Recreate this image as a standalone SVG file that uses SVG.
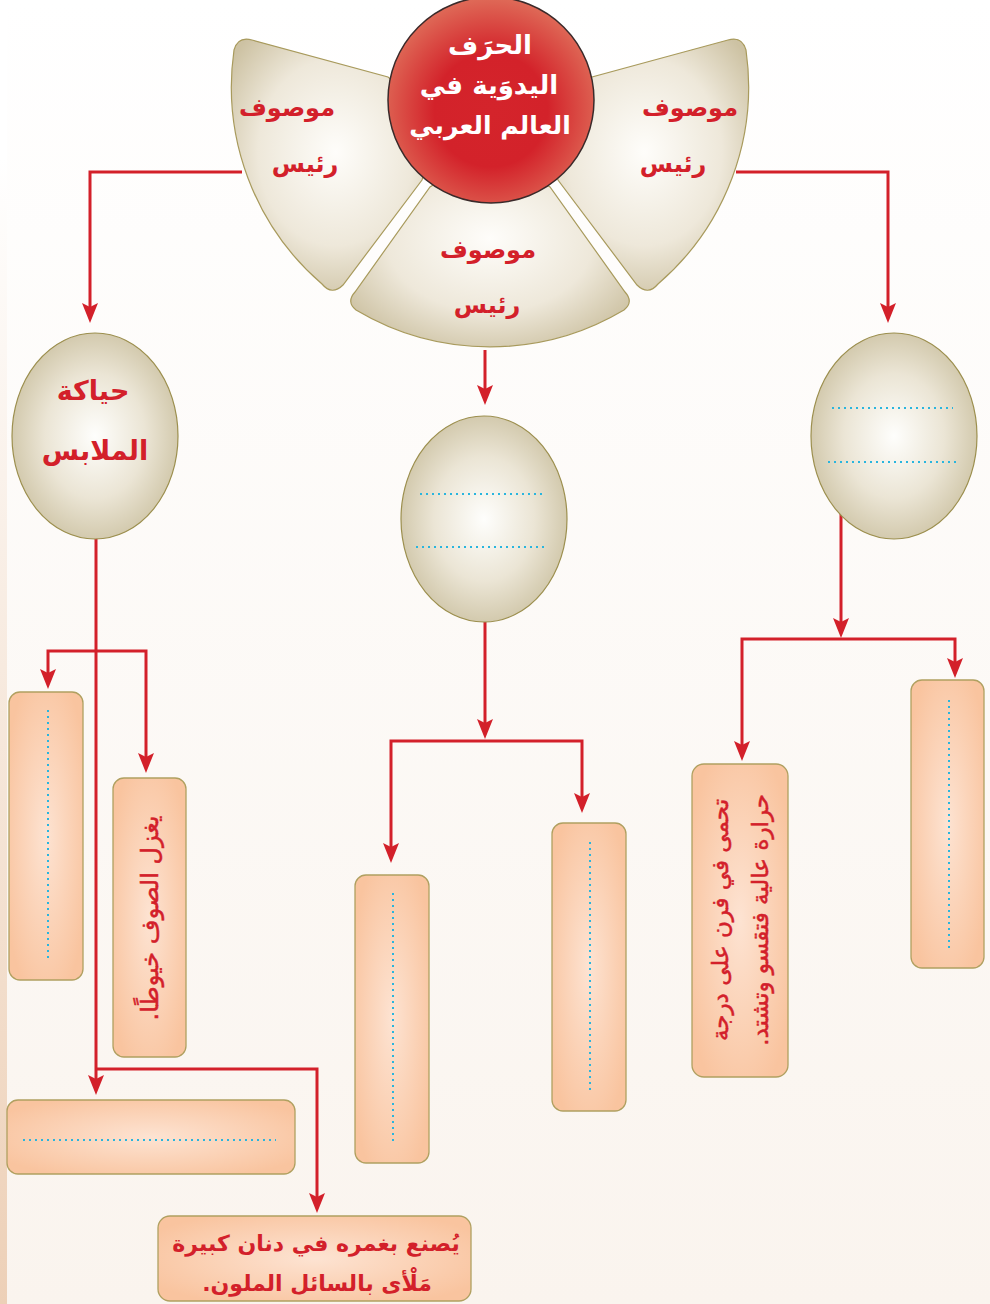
<svg xmlns="http://www.w3.org/2000/svg" width="990" height="1304" viewBox="0 0 990 1304">
<defs>
<linearGradient id="bg" x1="0" y1="0" x2="0" y2="1"><stop offset="0" stop-color="#ffffff"/><stop offset="1" stop-color="#faf4ee"/></linearGradient>
<linearGradient id="strip" x1="0" y1="0" x2="0" y2="1"><stop offset="0" stop-color="#ffffff"/><stop offset="0.12" stop-color="#ffffff"/><stop offset="1" stop-color="#edd0b7"/></linearGradient>
<radialGradient id="petal" cx="0.5" cy="0.45" r="0.62"><stop offset="0" stop-color="#fefdfa"/><stop offset="0.6" stop-color="#eee8da"/><stop offset="1" stop-color="#cdc2a3"/></radialGradient>
<radialGradient id="egg" cx="0.5" cy="0.5" r="0.55"><stop offset="0" stop-color="#fefefc"/><stop offset="0.55" stop-color="#ebe5d5"/><stop offset="1" stop-color="#cdc3a4"/></radialGradient>
<radialGradient id="red" cx="0.5" cy="0.55" r="0.55"><stop offset="0" stop-color="#d4242b"/><stop offset="0.5" stop-color="#d3222a"/><stop offset="1" stop-color="#df6b58"/></radialGradient>
<radialGradient id="box" cx="0.5" cy="0.5" r="0.6"><stop offset="0" stop-color="#fde3d2"/><stop offset="1" stop-color="#f9c49f"/></radialGradient>
<marker id="arr" viewBox="0 0 20 16" refX="15" refY="8" markerWidth="20" markerHeight="16" markerUnits="userSpaceOnUse" orient="auto"><path d="M0,0 L20,8 L0,16 L4,8 z" fill="#d3202a"/></marker>
</defs>
<style>
.con{fill:none;stroke:#d3202a;stroke-width:3;marker-end:url(#arr)}
.petal{fill:url(#petal);stroke:#a89a5c;stroke-width:1.2}
.egg{fill:url(#egg);stroke:#9c8f4e;stroke-width:1.2}
.box{fill:url(#box);stroke:#b0a060;stroke-width:1.3}
.dot{stroke:#29b5de;stroke-width:2;stroke-dasharray:2 4;fill:none}
.t{font-family:'DejaVu Sans','Noto Sans',sans-serif;fill:#d3202a;text-anchor:middle;direction:rtl}
.b{font-weight:bold}
.th{stroke:#d3202a;stroke-width:0.5}
.w{fill:#ffffff}
</style>
<rect x="0" y="0" width="990" height="1304" fill="url(#bg)"/>
<rect x="0" y="0" width="7" height="1304" fill="url(#strip)"/>

<g id="connectors">
<path class="con" d="M242,172 H90 V318"/>
<path class="con" d="M736,172 H888 V318"/>
<path class="con" d="M485,350 V400"/>
<path class="con" d="M96,530 V1090"/>
<path class="con" d="M96,651 H48 V684"/>
<path class="con" d="M96,651 H146 V768"/>
<path class="con" d="M96,1069 H317 V1208"/>
<path class="con" d="M485,622 V734"/>
<path class="con" d="M485,741 H391 V858"/>
<path class="con" d="M485,741 H582 V808"/>
<path class="con" d="M841,514 V633"/>
<path class="con" d="M841,639 H742 V756"/>
<path class="con" d="M841,639 H955 V673"/>
</g>

<g id="petal-left">
<path class="petal" d="M440,120 L388,77 L252,40 Q238,36 234,50 A260,260 0 0 0 322,284 Q332,296 343,285 L422,180 Z"/>
<text class="t b" x="287" y="116" font-size="24">موصوف</text>
<text class="t b" x="305" y="172" font-size="24">رئيس</text>
</g>
<g id="petal-bottom">
<path class="petal" d="M490,150 L430,187 L355,292 Q346,302 356,310 A262,262 0 0 0 624,310 Q634,302 625,292 L550,187 Z"/>
<text class="t b" x="488" y="258" font-size="24">موصوف</text>
<text class="t b" x="487" y="313" font-size="24">رئيس</text>
</g>
<g id="petal-right">
<path class="petal" d="M540,120 L592,77 L728,40 Q742,36 746,50 A260,260 0 0 1 658,284 Q648,296 637,285 L558,180 Z"/>
<text class="t b" x="690" y="116" font-size="24">موصوف</text>
<text class="t b" x="673" y="172" font-size="24">رئيس</text>
</g>

<g id="center">
<circle cx="491" cy="100" r="103" fill="url(#red)" stroke="#3a2a2a" stroke-width="1.5"/>
<text class="t b w" x="490" y="54" font-size="26">الحرَف</text>
<text class="t b w" x="489" y="94" font-size="26">اليدوَية في</text>
<text class="t b w" x="490" y="134" font-size="25">العالم العربي</text>
</g>

<g id="egg-left">
<ellipse class="egg" cx="95" cy="436" rx="83" ry="103"/>
<text class="t b" x="93" y="400" font-size="27">حياكة</text>
<text class="t b" x="95" y="460" font-size="27">الملابس</text>
</g>
<g id="egg-middle">
<ellipse class="egg" cx="484" cy="519" rx="83" ry="103"/>
<line class="dot" x1="420" y1="494" x2="542" y2="494"/>
<line class="dot" x1="416" y1="547" x2="546" y2="547"/>
</g>
<g id="egg-right">
<ellipse class="egg" cx="894" cy="436" rx="83" ry="103"/>
<line class="dot" x1="832" y1="408" x2="953" y2="408"/>
<line class="dot" x1="828" y1="462" x2="957" y2="462"/>
</g>

<g id="box-a">
<rect class="box" x="9" y="692" width="74" height="288" rx="11"/>
<line class="dot" x1="48" y1="710" x2="48" y2="962"/>
</g>
<g id="box-b">
<rect class="box" x="113" y="778" width="73" height="279" rx="11"/>
<text class="t th" font-size="24" dominant-baseline="central" transform="translate(150,918) rotate(-90)" x="0" y="0">يغزل الصوف خيوطًا.</text>
</g>
<g id="box-c">
<rect class="box" x="7" y="1100" width="288" height="74" rx="11"/>
<line class="dot" x1="23" y1="1140" x2="276" y2="1140"/>
</g>
<g id="box-d">
<rect class="box" x="158" y="1216" width="313" height="85" rx="12"/>
<text class="t b" x="316" y="1251" font-size="22">يُصنع بغمره في دنان كبيرة</text>
<text class="t b" x="317" y="1291" font-size="22">مَلْأى بالسائل الملون.</text>
</g>
<g id="box-e">
<rect class="box" x="355" y="875" width="74" height="288" rx="11"/>
<line class="dot" x1="393" y1="893" x2="393" y2="1145"/>
</g>
<g id="box-f">
<rect class="box" x="552" y="823" width="74" height="288" rx="11"/>
<line class="dot" x1="590" y1="842" x2="590" y2="1093"/>
</g>
<g id="box-g">
<rect class="box" x="692" y="764" width="96" height="313" rx="12"/>
<text class="t th" font-size="23" dominant-baseline="central" transform="translate(740,920) rotate(-90)" x="0" y="-20">تحمى في فرن على درجة</text>
<text class="t th" font-size="23" dominant-baseline="central" transform="translate(740,920) rotate(-90)" x="0" y="20">حرارة عالية فتقسو وتشتد.</text>
</g>
<g id="box-h">
<rect class="box" x="911" y="680" width="73" height="288" rx="11"/>
<line class="dot" x1="949" y1="700" x2="949" y2="952"/>
</g>
</svg>
